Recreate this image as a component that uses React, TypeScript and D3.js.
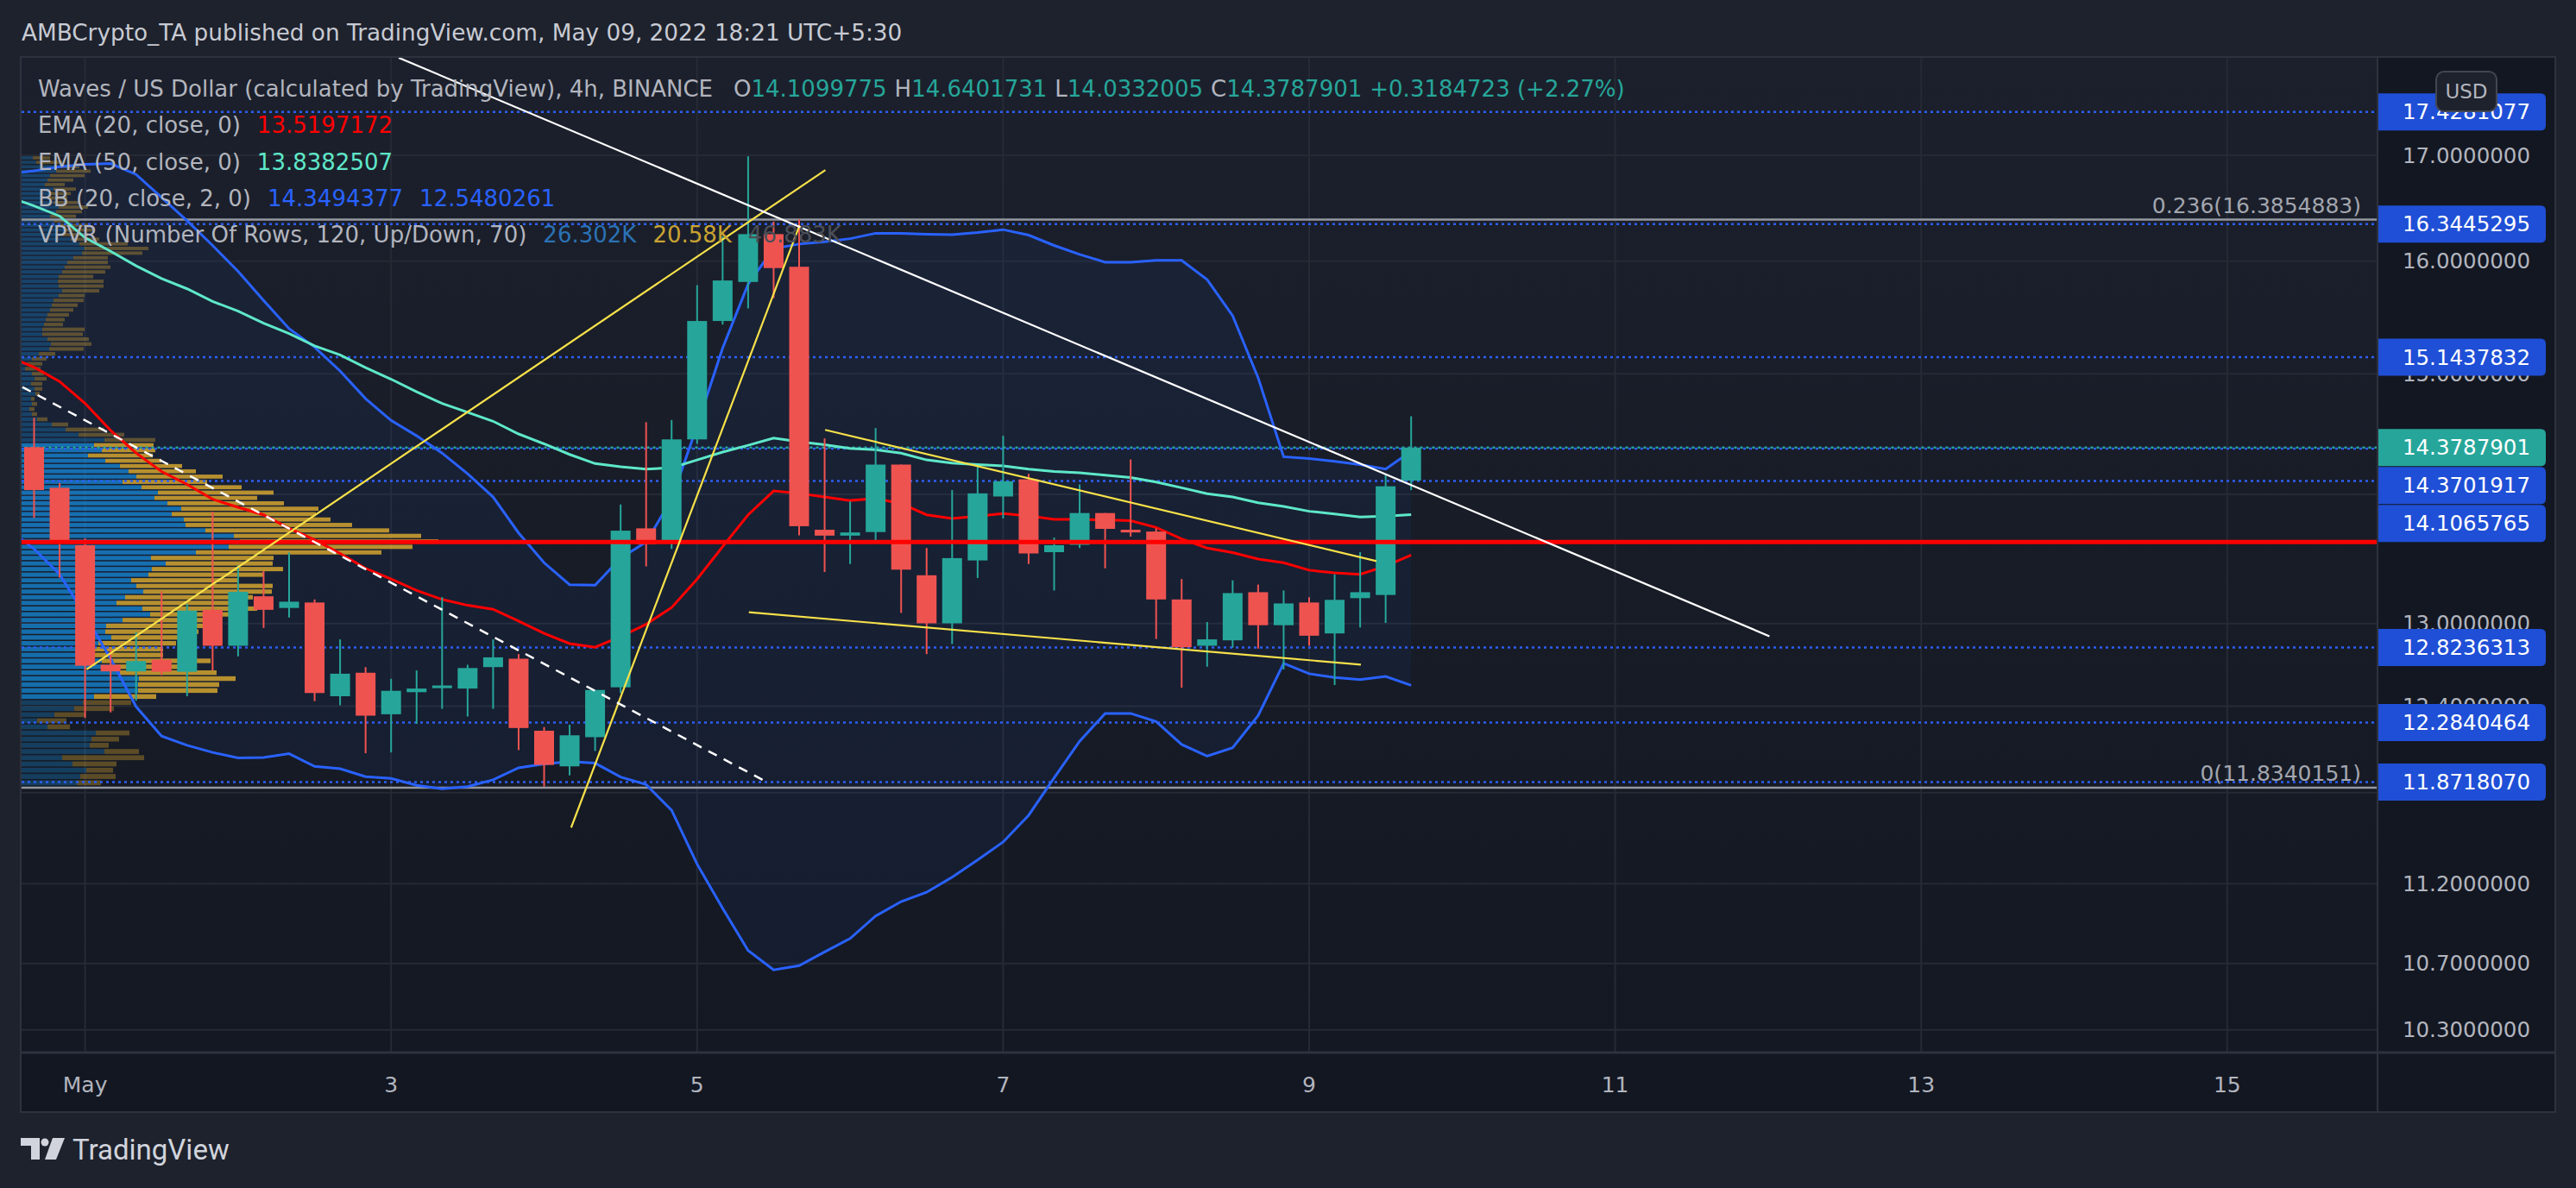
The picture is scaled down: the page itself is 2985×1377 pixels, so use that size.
import { useEffect } from 'react'
import * as d3 from 'd3'

// 4h candles, index 0 = first visible bar (Apr 30), May 1 tick at index 2
const opens = [14.383, 14.052, 13.597, 12.697, 12.649, 12.734, 12.646, 13.103, 12.836, 13.205, 13.117, 13.158, 12.470, 12.639, 12.342, 12.499, 12.528, 12.525, 12.680, 12.741, 12.226, 11.979, 12.181, 12.534, 13.729, 13.611, 14.447, 15.461, 15.811, 16.250, 15.949, 13.718, 13.672, 13.700, 14.240, 13.365, 13.002, 13.479, 13.982, 14.120, 13.543, 13.600, 13.850, 13.718, 13.704, 13.181, 12.836, 12.876, 13.236, 12.988, 13.158, 12.927, 13.191, 13.215, 14.1099775]
const highs = [14.628, 14.090, 13.650, 12.808, 12.934, 13.242, 13.147, 13.861, 13.443, 13.397, 13.540, 13.181, 12.883, 12.680, 12.595, 12.656, 13.198, 12.697, 12.883, 12.775, 12.252, 12.268, 12.515, 13.918, 14.590, 14.609, 15.782, 16.229, 16.991, 16.367, 16.388, 14.455, 13.943, 14.541, 14.240, 13.575, 14.034, 14.222, 14.477, 14.165, 13.657, 14.079, 13.850, 14.282, 13.729, 13.336, 13.012, 13.326, 13.294, 13.249, 13.198, 13.372, 13.543, 14.154, 14.6401731]
const lows = [13.811, 13.347, 12.316, 12.355, 12.438, 12.622, 12.470, 12.656, 12.758, 12.968, 13.046, 12.435, 12.406, 12.069, 12.075, 12.274, 12.380, 12.326, 12.380, 12.091, 11.841, 11.917, 12.085, 12.493, 13.433, 13.568, 14.410, 15.429, 15.573, 15.665, 13.675, 13.390, 13.451, 13.611, 13.080, 12.775, 12.849, 13.344, 13.807, 13.451, 13.249, 13.575, 13.418, 13.664, 12.886, 12.531, 12.683, 12.822, 12.815, 12.663, 12.836, 12.550, 12.971, 13.005, 14.0332005]
const closes = [14.034, 13.622, 12.690, 12.649, 12.724, 12.646, 13.097, 12.836, 13.239, 13.103, 13.164, 12.493, 12.632, 12.332, 12.509, 12.525, 12.547, 12.673, 12.751, 12.245, 11.989, 12.194, 12.515, 13.711, 13.604, 14.447, 15.461, 15.824, 16.250, 15.937, 13.746, 13.672, 13.697, 14.240, 13.408, 13.002, 13.497, 14.007, 14.105, 13.533, 13.597, 13.850, 13.725, 13.697, 13.181, 12.825, 12.883, 13.229, 12.988, 13.151, 12.910, 13.178, 13.236, 14.064, 14.3787901]

// indicator values, starting one bar before the first visible candle
const ema20 = [15.15, 15.057, 14.934, 14.748, 14.522, 14.334, 14.184, 14.079, 13.960, 13.896, 13.836, 13.729, 13.640, 13.533, 13.418, 13.336, 13.249, 13.181, 13.137, 13.107, 13.019, 12.927, 12.852, 12.825, 12.903, 12.995, 13.120, 13.336, 13.586, 13.836, 14.026, 14.007, 13.978, 13.950, 13.967, 13.925, 13.836, 13.807, 13.825, 13.846, 13.828, 13.800, 13.800, 13.796, 13.789, 13.736, 13.647, 13.575, 13.540, 13.490, 13.461, 13.404, 13.383, 13.372, 13.436, 13.520]
const ema50 = [16.60, 16.516, 16.419, 16.216, 16.091, 15.958, 15.841, 15.749, 15.636, 15.548, 15.441, 15.350, 15.243, 15.164, 15.053, 14.954, 14.847, 14.748, 14.673, 14.598, 14.492, 14.410, 14.323, 14.248, 14.222, 14.203, 14.214, 14.278, 14.342, 14.398, 14.458, 14.428, 14.402, 14.372, 14.361, 14.334, 14.278, 14.252, 14.240, 14.229, 14.203, 14.184, 14.173, 14.154, 14.135, 14.098, 14.052, 14.004, 13.978, 13.932, 13.903, 13.864, 13.843, 13.818, 13.825, 13.838]
const bbUpper = [16.82, 16.850, 16.890, 16.912, 16.921, 16.815, 16.595, 16.375, 16.145, 15.907, 15.644, 15.393, 15.231, 15.025, 14.788, 14.605, 14.477, 14.334, 14.165, 13.978, 13.693, 13.461, 13.293, 13.289, 13.497, 13.622, 13.960, 14.560, 15.223, 15.791, 16.116, 16.158, 16.179, 16.208, 16.258, 16.258, 16.250, 16.246, 16.266, 16.292, 16.241, 16.145, 16.062, 15.991, 15.991, 16.008, 16.008, 15.832, 15.508, 14.966, 14.304, 14.289, 14.267, 14.240, 14.203, 14.349]
const bbLower = [13.72, 13.568, 13.372, 13.063, 12.741, 12.396, 12.188, 12.124, 12.075, 12.037, 12.040, 12.066, 11.979, 11.963, 11.908, 11.896, 11.850, 11.826, 11.841, 11.887, 11.969, 11.995, 12.011, 12.001, 11.906, 11.855, 11.681, 11.326, 11.044, 10.779, 10.660, 10.686, 10.771, 10.854, 10.995, 11.086, 11.145, 11.242, 11.354, 11.471, 11.648, 11.900, 12.152, 12.348, 12.348, 12.290, 12.130, 12.050, 12.107, 12.332, 12.707, 12.632, 12.605, 12.589, 12.612, 12.548]

// volume profile rows, bottom (lowest price) to top
const vpUp = [64, 68, 75, 59, 47, 96, 79, 81, 86, 30, 18, 38, 61, 71, 84, 135, 135, 136, 114, 103, 93, 78, 79, 89, 104, 97, 98, 117, 149, 140, 110, 120, 141, 133, 127, 147, 151, 167, 150, 202, 240, 253, 246, 213, 190, 188, 174, 185, 169, 154, 158, 139, 117, 133, 124, 114, 97, 77, 93, 84, 96, 66, 51, 35, 18, 12, 9, 12, 11, 16, 15, 11, 15, 12, 4, 7, 12, 20, 32, 34, 30, 24, 24, 26, 28, 30, 33, 35, 37, 43, 47, 43, 42, 43, 47, 50, 53, 60, 70, 73, 67, 57, 47, 50, 43, 37, 33, 40, 43, 37, 30, 33, 37, 27, 30, 33, 40, 43, 17, 13]
const vpDown = [28, 41, 31, 51, 95, 40, 22, 32, 39, 26, 34, 36, 46, 56, 72, 92, 94, 112, 112, 96, 126, 86, 85, 90, 89, 108, 118, 112, 96, 133, 143, 148, 149, 158, 123, 133, 152, 124, 142, 215, 213, 230, 217, 213, 193, 170, 167, 159, 135, 119, 134, 116, 98, 100, 78, 72, 65, 75, 62, 69, 59, 53, 45, 19, 12, 6, 6, 6, 4, 5, 9, 13, 14, 14, 18, 17, 17, 19, 40, 47, 48, 47, 49, 22, 22, 25, 27, 30, 35, 30, 43, 52, 53, 40, 50, 53, 47, 40, 70, 74, 56, 33, 30, 33, 34, 30, 30, 30, 34, 30, 23, 24, 26, 23, 30, 40, 40, 24, 30, 20]
const vpLow = 11.841
const vpHigh = 16.991
const valueArea = [14, 59]

const priceTicks = [17, 16, 15, 14, 13, 12.4, 11.8, 11.2, 10.7, 10.3]
const dayTicks = [2, 14, 26, 38, 50, 62, 74, 86]
const dayLabels = ['May', '3', '5', '7', '9', '11', '13', '15']

const levelPrices = ['17.4281077', '16.3445295', '15.1437832', '14.3701917', '14.1065765', '12.8236313', '12.2840464', '11.8718070']
const lastPrice = '14.3787901'
const fibLevels = [
  { ratio: '0.236', price: '16.3854883' },
  { ratio: '0', price: '11.8340151' },
]

// drawings: [bar1, price1, bar2, price2]
const whiteTrend = [14.3, 17.978, 68.05, 12.906]
const dashedTrend = [-0.46, 14.887, 28.71, 11.874]
const yellowLines = [
  [2.06, 12.663, 31.03, 16.858],
  [21.06, 11.566, 30.02, 16.332],
  [31.02, 14.526, 52.64, 13.474],
  [28.03, 13.085, 52.03, 12.698],
]

const W = 2985
const H = 1377
const pane = { left: 25, right: 2755, top: 67, bottom: 1220 }
const axisRight = 2960
const timeAxisBottom = 1288
const font = '"DejaVu Sans", "Noto Sans", sans-serif'
const grey = '#b2b5be'
const up = '#26a69a'
const down = '#ef5350'

export default function App() {
  useEffect(() => {
    document.body.style.margin = '0'
    document.body.style.background = '#1e222d'
  }, [])

  const x = d3.scaleLinear().domain([0, 86]).range([39.5, 2580.8])
  const y = d3.scaleLog().domain([13, 17]).range([722.8, 180.1])
  const fmt = d3.format('.7f')

  const line = d3.line<number>().x((_, i) => x(i - 1)).y(v => y(v))
  const bbArea = d3.area<number>()
    .x((_, i) => x(i - 1))
    .y0((_, i) => y(bbLower[i]))
    .y1(v => y(v))

  // volume profile
  const rowSize = (vpHigh - vpLow) / vpUp.length
  const maxVol = d3.max(vpUp.map((u, i) => u + vpDown[i])) ?? 1
  const vw = d3.scaleLinear().domain([0, maxVol]).range([0, 483])
  const pocRow = d3.maxIndex(vpUp.map((u, i) => u + vpDown[i]))
  const pocPrice = vpLow + (pocRow + 0.5) * rowSize

  // price labels on the axis with simple collision push-down
  const boxH = 43
  const labels = [
    { text: lastPrice, color: up, order: 0 },
    ...levelPrices.map(p => ({ text: p, color: '#1f4fd6', order: 1 })),
  ]
    .map(l => ({ ...l, yy: y(+l.text) }))
    .sort((a, b) => a.yy - b.yy || a.order - b.order)
  let prevY = -1e9
  labels.forEach(l => {
    l.yy = Math.max(l.yy, prevY + boxH + 1)
    prevY = l.yy
  })

  const bw = 23
  const seg = (a: number[]) => ({ x1: x(a[0]), y1: y(a[1]), x2: x(a[2]), y2: y(a[3]) })

  const boxPath = (yc: number) => {
    const x0 = pane.right + 1, x1 = 2950, t = yc - boxH / 2, b = yc + boxH / 2, r = 6
    return `M${x0},${t}H${x1 - r}Q${x1},${t} ${x1},${t + r}V${b - r}Q${x1},${b} ${x1 - r},${b}H${x0}Z`
  }

  return (
    <svg width={W} height={H} style={{ display: 'block', position: 'absolute', left: 0, top: 0 }} fontFamily={font}>
      <defs>
        <linearGradient id="paneBg" x1="0" y1="0" x2="0" y2="1">
          <stop offset="0" stopColor="#1c202c" />
          <stop offset="1" stopColor="#141822" />
        </linearGradient>
        <clipPath id="paneClip">
          <rect x={pane.left} y={pane.top} width={pane.right - pane.left} height={pane.bottom - pane.top} />
        </clipPath>
      </defs>

      <rect width={W} height={H} fill="#1e222d" />
      <rect x={pane.left} y={pane.top} width={pane.right - pane.left} height={pane.bottom - pane.top} fill="url(#paneBg)" />
      <rect x={pane.right} y={pane.top} width={axisRight - pane.right} height={timeAxisBottom - pane.top} fill="#131722" />
      <rect x={pane.left} y={pane.bottom} width={pane.right - pane.left} height={timeAxisBottom - pane.bottom} fill="#131722" />

      {/* title */}
      <text x={25} y={38} fontSize={26.3} fill="#c8cbd3" dominantBaseline="central">
        AMBCrypto_TA published on TradingView.com, May 09, 2022 18:21 UTC+5:30
      </text>

      <g clipPath="url(#paneClip)">
        {/* grid */}
        {priceTicks.map(t => (
          <line key={t} x1={pane.left} x2={pane.right} y1={y(t)} y2={y(t)} stroke="#262a35" strokeWidth={2} />
        ))}
        {dayTicks.map(t => (
          <line key={t} x1={x(t)} x2={x(t)} y1={pane.top} y2={pane.bottom} stroke="#262a35" strokeWidth={2} />
        ))}

        {/* bollinger fill */}
        <path d={bbArea(bbUpper) ?? ''} fill="#2962ff" fillOpacity={0.06} />

        {/* volume profile */}
        {vpUp.map((u, i) => {
          const yt = y(vpLow + (i + 1) * rowSize)
          const yb = y(vpLow + i * rowSize)
          const inVA = i >= valueArea[0] && i <= valueArea[1]
          const h = Math.max(1, yb - yt - 1.5)
          return (
            <g key={i}>
              <rect x={pane.left} y={yt} width={vw(u)} height={h} fill="#1592e6" fillOpacity={inVA ? 0.7 : 0.3} />
              <rect x={pane.left + vw(u)} y={yt} width={vw(vpDown[i])} height={h} fill="#fbc02d" fillOpacity={inVA ? 0.7 : 0.3} />
            </g>
          )
        })}

        {/* fib levels */}
        {fibLevels.map(f => (
          <g key={f.ratio}>
            <line x1={pane.left} x2={pane.right} y1={y(+f.price)} y2={y(+f.price)} stroke="#9598a1" strokeWidth={2.5} />
            <text x={2736} y={y(+f.price) - 16} fontSize={25} fill="#a3a6af" textAnchor="end" dominantBaseline="central">
              {f.ratio}({f.price})
            </text>
          </g>
        ))}

        {/* horizontal levels */}
        {levelPrices.map(p => (
          <line key={p} x1={pane.left} x2={pane.right} y1={y(+p)} y2={y(+p)} stroke="#2d5ff5" strokeWidth={2.5} strokeDasharray="3 4" />
        ))}
        <line x1={pane.left} x2={pane.right} y1={y(+lastPrice)} y2={y(+lastPrice)} stroke={up} strokeWidth={2.5} strokeDasharray="3 4" strokeDashoffset={3.5} />

        {/* bollinger bands + emas */}
        <path d={line(bbUpper) ?? ''} fill="none" stroke="#2962ff" strokeWidth={3} />
        <path d={line(bbLower) ?? ''} fill="none" stroke="#2962ff" strokeWidth={3} />
        <path d={line(ema50) ?? ''} fill="none" stroke="#5ee8c9" strokeWidth={3} />
        <path d={line(ema20) ?? ''} fill="none" stroke="#ff0000" strokeWidth={3} />

        {/* candles */}
        {opens.map((o, i) => {
          const c = closes[i]
          const col = c >= o ? up : down
          const top = y(Math.max(o, c))
          const bot = y(Math.min(o, c))
          return (
            <g key={i}>
              <line x1={x(i)} x2={x(i)} y1={y(highs[i])} y2={y(lows[i])} stroke={col} strokeWidth={2} />
              <rect x={x(i) - bw / 2} y={top} width={bw} height={Math.max(3, bot - top)} fill={col} />
            </g>
          )
        })}

        {/* point of control */}
        <line x1={pane.left} x2={pane.right} y1={y(pocPrice)} y2={y(pocPrice)} stroke="#ff0000" strokeWidth={5} />

        {/* drawings */}
        {yellowLines.map((l, i) => (
          <line key={i} {...seg(l)} stroke="#f7e14a" strokeWidth={2.2} />
        ))}
        <line {...seg(dashedTrend)} stroke="#ffffff" strokeWidth={2.5} strokeDasharray="11 9" />
        <line {...seg(whiteTrend)} stroke="#ffffff" strokeWidth={2.2} />
      </g>

      {/* legend */}
      <g fontSize={26} fill={grey}>
        <text x={44} y={103} dominantBaseline="central">
          Waves / US Dollar (calculated by TradingView), 4h, BINANCE
          <tspan dx={24}>O</tspan><tspan fill={up}>{opens[opens.length - 1].toFixed(7)}</tspan>
          <tspan dx={9}>H</tspan><tspan fill={up}>{highs[highs.length - 1].toFixed(7)}</tspan>
          <tspan dx={9}>L</tspan><tspan fill={up}>{lows[lows.length - 1].toFixed(7)}</tspan>
          <tspan dx={9}>C</tspan><tspan fill={up}>{closes[closes.length - 1].toFixed(7)}</tspan>
          <tspan dx={9} fill={up}>+0.3184723 (+2.27%)</tspan>
        </text>
        <text x={44} y={145} dominantBaseline="central">
          EMA (20, close, 0)<tspan dx={19} fill="#ff0000">13.5197172</tspan>
        </text>
        <text x={44} y={188} dominantBaseline="central">
          EMA (50, close, 0)<tspan dx={19} fill="#5ee8c9">13.8382507</tspan>
        </text>
        <text x={44} y={230} dominantBaseline="central">
          BB (20, close, 2, 0)<tspan dx={19} fill="#2962ff">14.3494377</tspan><tspan dx={19} fill="#2962ff">12.5480261</tspan>
        </text>
        <text x={44} y={272} dominantBaseline="central">
          VPVR (Number Of Rows, 120, Up/Down, 70)<tspan dx={19} fill="#2a72b5">26.302K</tspan><tspan dx={19} fill="#c9a332">20.58K</tspan><tspan dx={19} fill="#4c4f58">46.883K</tspan>
        </text>
      </g>

      {/* price axis */}
      {priceTicks.map(t => (
        <text key={t} x={2932} y={y(t)} fontSize={24.5} fill={grey} textAnchor="end" dominantBaseline="central">
          {fmt(t)}
        </text>
      ))}
      {labels.map(l => (
        <g key={l.text}>
          <path d={boxPath(l.yy)} fill={l.color} />
          <text x={2932} y={l.yy} fontSize={24.5} fill="#ffffff" textAnchor="end" dominantBaseline="central">
            {l.text}
          </text>
        </g>
      ))}
      <rect x={2823} y={83} width={70} height={46} rx={9} fill="#1e222d" stroke="#434651" strokeWidth={2} />
      <text x={2858} y={106} fontSize={23} fill={grey} textAnchor="middle" dominantBaseline="central">USD</text>

      {/* time axis */}
      {dayTicks.map((t, i) => (
        <text key={t} x={x(t)} y={1257} fontSize={25} fill={grey} textAnchor="middle" dominantBaseline="central">
          {dayLabels[i]}
        </text>
      ))}

      {/* frame */}
      <line x1={pane.left} x2={axisRight} y1={pane.bottom} y2={pane.bottom} stroke="#2e323e" strokeWidth={3} />
      <line x1={pane.right} x2={pane.right} y1={pane.top} y2={timeAxisBottom} stroke="#2e323e" strokeWidth={2} />
      <rect x={pane.left - 1} y={pane.top - 1} width={axisRight - pane.left + 2} height={timeAxisBottom - pane.top + 2} fill="none" stroke="#2e323e" strokeWidth={2} />

      {/* TradingView logo */}
      <g fill="#d1d4dc">
        <path d="M24,1319H46V1344H36V1328H24Z" />
        <circle cx={52} cy={1324} r={4.5} />
        <path d="M61,1319H75L65,1344H52Z" />
        <text x={84} y={1332} fontSize={33} fontFamily='Roboto, sans-serif' dominantBaseline="central">TradingView</text>
      </g>
    </svg>
  )
}
